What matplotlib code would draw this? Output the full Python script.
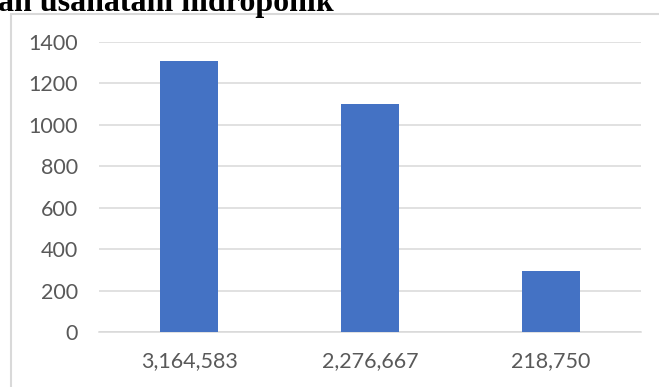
import matplotlib.pyplot as plt
from matplotlib.patches import Rectangle

categories = ['3,164,583', '2,276,667', '218,750']
values = [1310, 1100, 294]
yticks = [0, 200, 400, 600, 800, 1000, 1200, 1400]

W, H = 659, 387
fig = plt.figure(figsize=(W / 100, H / 100), dpi=100)

# chart border (light grey frame, cut off at right/bottom)
fig.add_artist(Rectangle((10.5 / W, -0.1), 2, (H - 13.5) / H + 0.1,
                         transform=fig.transFigure, fill=False,
                         edgecolor='#D9D9D9', linewidth=1.5, clip_on=False))

# cropped document title
fig.text(-2 / W, 1 - 11 / H, 'an usahatani hidroponik', family='Liberation Serif',
         fontweight='bold', fontsize=23, va='baseline', ha='left', color='black')

ax = fig.add_axes([99 / W, (H - 332) / H, (641 - 99) / W, (332 - 42) / H])
ax.bar(range(len(values)), values, width=0.32, color='#4472C4', zorder=3)
ax.set_xlim(-0.5, len(values) - 0.5)
ax.set_ylim(0, 1400)
ax.set_yticks(yticks)
ax.set_xticks(range(len(categories)))
ax.set_xticklabels(categories)
ax.grid(axis='y', color='#D9D9D9', linewidth=1.1, zorder=0)
for s in ['top', 'right', 'left']:
    ax.spines[s].set_visible(False)
ax.spines['bottom'].set_color('#D9D9D9')
ax.spines['bottom'].set_linewidth(1.1)
ax.tick_params(axis='both', length=0, labelsize=15.5, labelcolor='#595959')
ax.tick_params(axis='y', pad=15)
ax.tick_params(axis='x', pad=14)
for lab in ax.get_xticklabels() + ax.get_yticklabels():
    lab.set_family('Lato')

fig.savefig('out.png', dpi=100)
